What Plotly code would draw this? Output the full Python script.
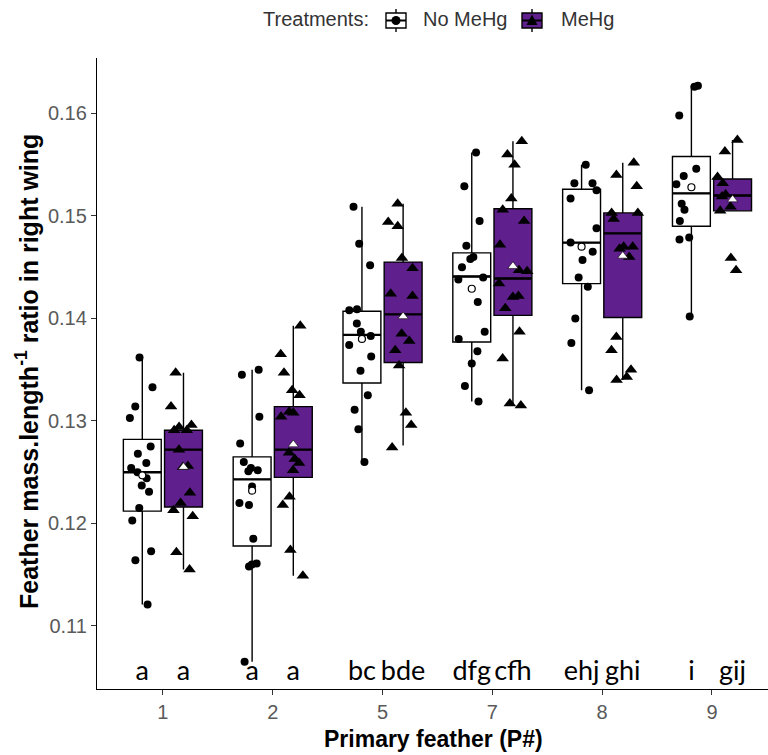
import plotly.graph_objects as go

# ---------------- data ----------------
categories = ['1', '2', '5', '7', '8', '9']
series_names = ['No MeHg', 'MeHg']

p1_no = [0.1362, 0.1333, 0.1314, 0.1303, 0.1275, 0.1268, 0.1259, 0.1254, 0.1250, 0.1244, 0.1237, 0.1231, 0.1215, 0.1203, 0.1173, 0.1164, 0.1121]
p1_me = [0.1347, 0.1314, 0.1296, 0.1294, 0.1291, 0.1291, 0.1272, 0.1256, 0.1255, 0.1230, 0.1220, 0.1213, 0.1207, 0.1172, 0.1155]
p2_no = [0.1350, 0.1345, 0.1304, 0.1278, 0.1260, 0.1254, 0.1251, 0.1252, 0.1236, 0.1220, 0.1218, 0.1185, 0.1161, 0.1158, 0.1160, 0.1065]
p2_me = [0.1393, 0.1365, 0.1347, 0.1330, 0.1325, 0.1304, 0.1309, 0.1308, 0.1269, 0.1263, 0.1259, 0.1252, 0.1226, 0.1218, 0.1174, 0.1149]
p5_no = [0.1509, 0.1473, 0.1452, 0.1408, 0.1409, 0.1395, 0.1387, 0.1383, 0.1374, 0.1363, 0.1349, 0.1325, 0.1311, 0.1292, 0.1260]
p5_me = [0.1512, 0.1494, 0.1490, 0.1459, 0.1449, 0.1424, 0.1422, 0.1385, 0.1378, 0.1369, 0.1354, 0.1308, 0.1296, 0.1274]
p7_no = [0.1562, 0.1529, 0.1495, 0.1471, 0.1458, 0.1460, 0.1450, 0.1438, 0.1440, 0.1416, 0.1387, 0.1380, 0.1368, 0.1356, 0.1334, 0.1319]
p7_me = [0.1573, 0.1560, 0.1550, 0.1517, 0.1506, 0.1495, 0.1472, 0.1446, 0.1447, 0.1434, 0.1422, 0.1421, 0.1410, 0.1387, 0.1361, 0.1317, 0.1315]
p8_no = [0.1550, 0.1532, 0.1532, 0.1525, 0.1517, 0.1488, 0.1474, 0.1465, 0.1457, 0.1440, 0.1431, 0.1400, 0.1376, 0.1330]
p8_me = [0.1552, 0.1540, 0.1529, 0.1503, 0.1503, 0.1497, 0.1470, 0.1470, 0.1468, 0.1460, 0.1382, 0.1369, 0.1350, 0.1343, 0.1340]
p9_no = [0.1626, 0.1627, 0.1598, 0.1546, 0.1539, 0.1531, 0.1512, 0.1506, 0.1495, 0.1477, 0.1479, 0.1402]
p9_me = [0.1574, 0.1563, 0.1538, 0.1532, 0.1521, 0.1519, 0.1509, 0.1505, 0.1459, 0.1447]

no_q1 = [0.1212, 0.1178, 0.1337, 0.1377, 0.1434, 0.1490]
no_med = [0.1250, 0.1243, 0.1384, 0.1441, 0.1474, 0.1522]
no_q3 = [0.1282, 0.1265, 0.1407, 0.1464, 0.1526, 0.1558]
no_lo = [0.1121, 0.1065, 0.1260, 0.1319, 0.1330, 0.1402]
no_hi = [0.1362, 0.1350, 0.1509, 0.1562, 0.1550, 0.1627]
no_mean = [0.1247, 0.1232, 0.1380, 0.1429, 0.1470, 0.1528]

me_q1 = [0.1216, 0.1245, 0.1357, 0.1403, 0.1401, 0.1505]
me_med = [0.1272, 0.1272, 0.1404, 0.1439, 0.1483, 0.1520]
me_q3 = [0.1291, 0.1314, 0.1455, 0.1507, 0.1503, 0.1536]
me_lo = [0.1155, 0.1149, 0.1276, 0.1316, 0.1340, 0.1505]
me_hi = [0.1347, 0.1393, 0.1512, 0.1573, 0.1552, 0.1574]
me_mean = [0.1255, 0.1277, 0.1402, 0.1451, 0.1461, 0.1516]

no_letters = ['a', 'a', 'bc', 'dfg', 'ehj', 'i']
me_letters = ['a', 'a', 'bde', 'cfh', 'ghi', 'gij']

y_ticks = [0.11, 0.12, 0.13, 0.14, 0.15, 0.16]

# ---------------- layout constants ----------------
W, H = 768, 755
L, R, T, B = 97, 768, 58, 689
PURPLE = '#5f1f8c'
FONT = 'Liberation Sans, Arial, sans-serif'
DODGE = 0.1875
BOXW = 0.345
LETTER_Y = 0.1054

no_pts = [p1_no, p2_no, p5_no, p7_no, p8_no, p9_no]
me_pts = [p1_me, p2_me, p5_me, p7_me, p8_me, p9_me]

idx = list(range(1, len(categories) + 1))
x_no = [i - DODGE for i in idx]
x_me = [i + DODGE for i in idx]


def px(xp):
    return (xp - L) / (R - L)


def py(yp):
    return (B - yp) / (B - T)


fig = go.Figure()

for xs, q1, med, q3, lo, hi, fill in [
    (x_no, no_q1, no_med, no_q3, no_lo, no_hi, 'white'),
    (x_me, me_q1, me_med, me_q3, me_lo, me_hi, PURPLE),
]:
    fig.add_trace(go.Box(
        x=xs, q1=q1, median=med, q3=q3, lowerfence=lo, upperfence=hi,
        width=BOXW, whiskerwidth=0, fillcolor=fill,
        line=dict(color='black', width=1.4), boxpoints=False,
        showlegend=False, hoverinfo='skip'))
    # thicker median line
    mx, my = [], []
    for x, m in zip(xs, med):
        mx += [x - BOXW / 2, x + BOXW / 2, None]
        my += [m, m, None]
    fig.add_trace(go.Scatter(x=mx, y=my, mode='lines',
                             line=dict(color='black', width=2.4),
                             showlegend=False, hoverinfo='skip'))

# jittered points
for xs, pts, sym, size in [(x_no, no_pts, 'circle', 8), (x_me, me_pts, 'triangle-up', 11)]:
    xx, yy = [], []
    for x, p in zip(xs, pts):
        xx += [x] * len(p)
        yy += p
    fig.add_trace(go.Box(
        x=xx, y=yy, width=BOXW, boxpoints='all', jitter=0.8, pointpos=0,
        fillcolor='rgba(0,0,0,0)', line=dict(color='rgba(0,0,0,0)', width=0),
        whiskerwidth=0,
        marker=dict(color='black', symbol=sym, size=size, line=dict(width=0)),
        showlegend=False, hoverinfo='skip'))

# means
fig.add_trace(go.Scatter(x=x_no, y=no_mean, mode='markers',
                         marker=dict(symbol='circle', size=7, color='white',
                                     line=dict(color='black', width=1.2)),
                         showlegend=False, hoverinfo='skip'))
fig.add_trace(go.Scatter(x=x_me, y=me_mean, mode='markers',
                         marker=dict(symbol='triangle-up', size=9, color='white',
                                     line=dict(color='black', width=0.6)),
                         showlegend=False, hoverinfo='skip'))

# letters
fig.add_trace(go.Scatter(
    x=x_no + x_me, y=[LETTER_Y] * (len(x_no) + len(x_me)),
    text=no_letters + me_letters, mode='text',
    textfont=dict(family='Lato, Open Sans, sans-serif', size=27, color='black'),
    textposition='middle center', showlegend=False, hoverinfo='skip'))

legend_font = dict(family=FONT, size=20, color='#333333')
annotations = [
    dict(text='<b>Feather mass.length<sup>-1</sup> ratio in right wing</b>', x=px(27), y=py(372),
         xref='paper', yref='paper', textangle=-90, showarrow=False,
         font=dict(family=FONT, size=25, color='black'), xanchor='center', yanchor='middle'),
    dict(text='<b>Primary feather (P#)</b>', x=px(433), y=py(739), xref='paper', yref='paper',
         showarrow=False, font=dict(family=FONT, size=23, color='black'),
         xanchor='center', yanchor='middle'),
    dict(text='Treatments:', x=px(261), y=py(19), xref='paper', yref='paper', showarrow=False,
         font=legend_font, xanchor='left', yanchor='middle'),
    dict(text=series_names[0], x=px(421), y=py(19), xref='paper', yref='paper', showarrow=False,
         font=legend_font, xanchor='left', yanchor='middle'),
    dict(text=series_names[1], x=px(559), y=py(19), xref='paper', yref='paper', showarrow=False,
         font=legend_font, xanchor='left', yanchor='middle'),
]

shapes = []
for x0, fill, mark in [(386, 'white', 'dot'), (522, PURPLE, 'tri')]:
    xc = x0 + 10
    shapes.append(dict(type='line', xref='paper', yref='paper', x0=px(xc), x1=px(xc),
                       y0=py(32), y1=py(9), line=dict(color='black', width=1.4)))
    shapes.append(dict(type='rect', xref='paper', yref='paper', x0=px(x0), x1=px(x0 + 20),
                       y0=py(28), y1=py(13), fillcolor=fill, line=dict(color='black', width=1.4)))
    shapes.append(dict(type='line', xref='paper', yref='paper', x0=px(x0), x1=px(x0 + 20),
                       y0=py(20.5), y1=py(20.5), line=dict(color='black', width=2)))
    if mark == 'dot':
        shapes.append(dict(type='circle', xref='paper', yref='paper', x0=px(xc - 4.5), x1=px(xc + 4.5),
                           y0=py(25), y1=py(16), fillcolor='black', line=dict(width=0)))
    else:
        path = 'M {} {} L {} {} L {} {} Z'.format(px(xc), py(14.5), px(xc - 5.5), py(25), px(xc + 5.5), py(25))
        shapes.append(dict(type='path', xref='paper', yref='paper', path=path,
                           fillcolor='black', line=dict(width=0)))

fig.update_layout(
    width=W, height=H, margin=dict(l=L, r=W - R, t=T, b=H - B),
    paper_bgcolor='white', plot_bgcolor='white', boxmode='overlay',
    annotations=annotations, shapes=shapes,
    xaxis=dict(range=[0.4, 6.51], tickvals=idx, ticktext=categories, showgrid=False,
               zeroline=False, showline=True, linecolor='black', linewidth=1.3,
               ticks='outside', ticklen=5, tickcolor='#333333', tickwidth=1.1,
               tickfont=dict(family=FONT, size=20, color='#5a5a5a')),
    yaxis=dict(range=[0.10385, 0.16541], tickvals=y_ticks,
               ticktext=['{:.2f}'.format(v) for v in y_ticks], showgrid=False,
               zeroline=False, showline=True, linecolor='black', linewidth=1.3,
               ticks='outside', ticklen=5, tickcolor='#333333', tickwidth=1.1,
               tickfont=dict(family=FONT, size=20, color='#5a5a5a')),
)

fig.write_html('out.html')
